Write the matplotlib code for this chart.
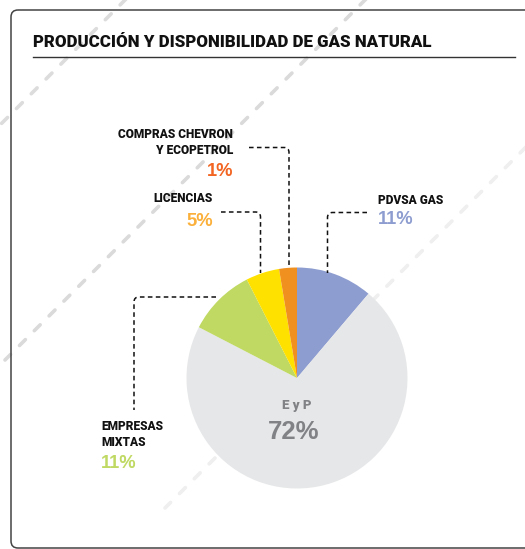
import matplotlib
matplotlib.use("Agg")
import matplotlib.pyplot as plt
from matplotlib.patches import FancyBboxPatch, PathPatch
from matplotlib.path import Path

# data
names = ["PDVSA GAS", "E y P", "EMPRESAS\nMIXTAS", "LICENCIAS", "COMPRAS CHEVRON\nY ECOPETROL"]
shares = [11.2, 71.4, 9.9, 4.9, 2.6]          # wedge sizes as drawn
pct_labels = ["11%", "72%", "11%", "5%", "1%"]  # printed values
wedge_colors = ["#8e9dd0", "#e6e7e8", "#bfd962", "#ffe100", "#f0901f"]
text_colors = ["#8e9dd0", "#808285", "#bfd962", "#fbb03b", "#f26522"]

FONT = ["Roboto", "DejaVu Sans"]
NUMFONT = ["Liberation Sans", "DejaVu Sans"]

fig = plt.figure(figsize=(5.25, 5.49), dpi=100)
ax = fig.add_axes([0, 0, 1, 1])

# background dashed diagonals
for x0, y0, x1, y1, c in [(128, -3, -3, 128, "#dcdcdc"),
                          (368, -3, 5, 360, "#dadada"),
                          (530, 143, 165, 508, "#efefef")]:
    ax.plot([x0, x1], [y0, y1], color=c, lw=2.6, dashes=(2.3, 3.5),
            solid_capstyle="round", dash_capstyle="round", zorder=0)

# frame
ax.add_patch(FancyBboxPatch((11, 10), 540, 538, boxstyle="round,pad=0,rounding_size=7",
                            fc="none", ec="#444444", lw=1.1, zorder=1))

# title
ax.text(33, 42, "PRODUCCIÓN Y DISPONIBILIDAD DE GAS NATURAL", family=FONT,
        fontsize=12.2, fontweight=900, color="#111111", va="center", ha="left")
ax.plot([33, 515], [56.5, 56.5], color="#333333", lw=1)

# pie (y axis is inverted, so counterclock here runs clockwise on screen)
ax.pie(shares, colors=wedge_colors, startangle=-90, counterclock=True,
       center=(297, 378), radius=110.5, wedgeprops=dict(lw=0))


def leader(pts, r=5):
    # dashed elbow with a rounded corner: pts = start, corner, end
    (xa, ya), (xc, yc), (xb, yb) = pts
    dx1 = (xc - xa) / abs(xc - xa) if xc != xa else 0
    dy2 = (yb - yc) / abs(yb - yc) if yb != yc else 0
    verts = [(xa, ya), (xc - dx1 * r, yc), (xc, yc), (xc, yc + dy2 * r), (xb, yb)]
    codes = [Path.MOVETO, Path.LINETO, Path.CURVE3, Path.CURVE3, Path.LINETO]
    ax.add_patch(PathPatch(Path(verts, codes), fc="none", ec="#111111", lw=1.1,
                           ls=(0, (3, 2.2)), zorder=3))


leader([(249, 147.5), (289, 147.5), (289, 267)])
leader([(221, 212), (260.5, 212), (260.5, 273)])
leader([(367, 212.5), (327.5, 212.5), (327.5, 273)])
leader([(216, 297), (134, 297), (134, 410)])

lab = dict(family=FONT, fontsize=8.6, fontweight=900, color="#111111",
           linespacing=1.3)
pct = dict(family=NUMFONT, fontsize=13.2, fontweight="bold")

# compras
ax.text(233, 142, names[4], ha="right", va="center", **lab)
ax.text(233, 171, pct_labels[4], ha="right", va="center", color=text_colors[4], **pct)
# licencias
ax.text(213, 199, names[3], ha="right", va="center", **lab)
ax.text(213, 221, pct_labels[3], ha="right", va="center", color=text_colors[3], **pct)
# pdvsa
ax.text(378, 200, names[0], ha="left", va="center", **lab)
ax.text(378, 220, pct_labels[0], ha="left", va="center", color=text_colors[0], **pct)
# empresas mixtas
ax.text(101, 434, names[2], ha="left", va="center", **lab)
ax.text(101, 463, pct_labels[2], ha="left", va="center", color=text_colors[2], **pct)
# E y P
ax.text(297, 406, names[1], ha="center", va="center", family=FONT, fontsize=9.5,
        fontweight=900, color=text_colors[1])
ax.text(293.5, 432, pct_labels[1], ha="center", va="center", family=NUMFONT,
        fontsize=18.5, fontweight="bold", color=text_colors[1])

ax.set_xlim(0, 525)
ax.set_ylim(549, 0)
ax.set_aspect("equal")
ax.axis("off")

fig.savefig("out.png", dpi=100, facecolor="white")
